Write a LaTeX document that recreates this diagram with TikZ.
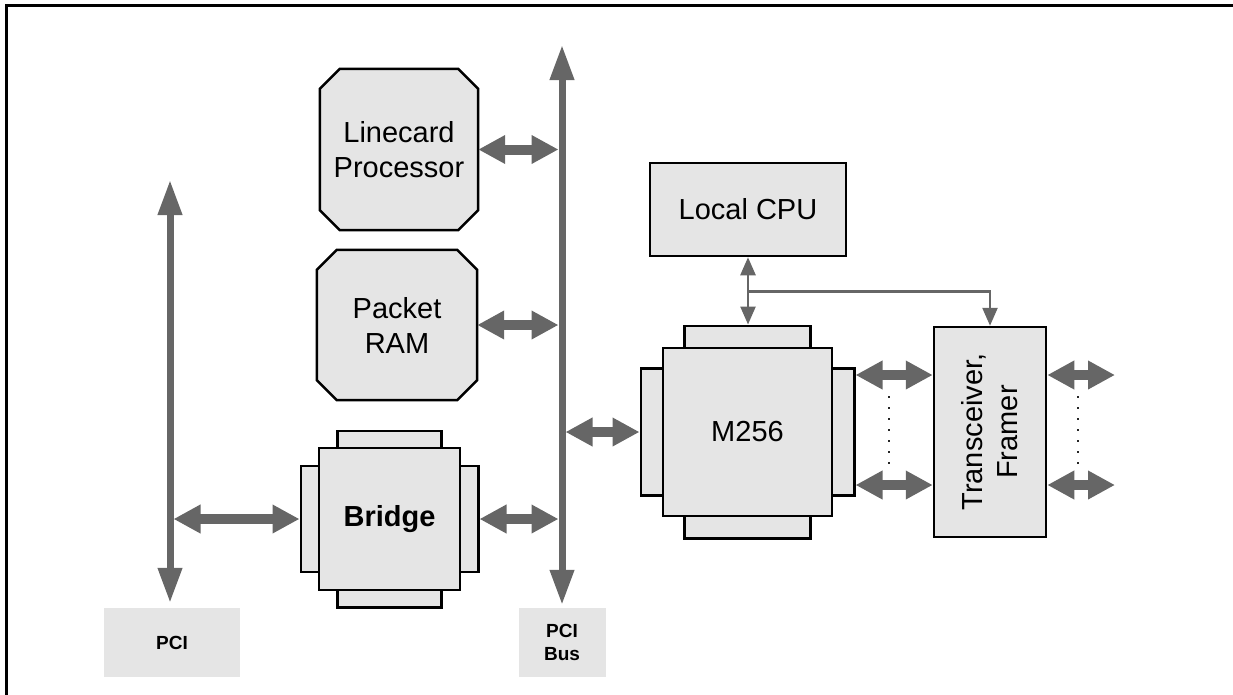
\documentclass[tikz,border=0pt]{standalone}
\usepackage{fontspec}
\setmainfont{Liberation Sans}
\usetikzlibrary{arrows.meta,backgrounds,calc}
\definecolor{boxgray}{HTML}{E5E5E5}
\definecolor{arrgray}{HTML}{666666}
\newcommand\octbox[1]{\filldraw[draw=black,line width=2.5pt,fill=boxgray,line join=miter]
  ([xshift=20pt]#1.north west) -- ([xshift=-20pt]#1.north east) -- ([yshift=-20pt]#1.north east) --
  ([yshift=20pt]#1.south east) -- ([xshift=-20pt]#1.south east) -- ([xshift=20pt]#1.south west) --
  ([yshift=20pt]#1.south west) -- ([yshift=-20pt]#1.north west) -- cycle;}
\begin{document}
\begin{tikzpicture}[x=1pt,y=-1pt,
  chip/.style={draw=black, line width=2.5pt, fill=boxgray, inner sep=0pt, align=center, font=\fontsize{29}{35}\selectfont},
  ghost/.style={inner sep=0pt, align=center, font=\fontsize{29}{35}\selectfont},
  tab/.style={draw=black, line width=2.5pt, fill=boxgray, inner sep=0pt},
  tag/.style={fill=boxgray, inner sep=0pt, align=center, font=\fontsize{19}{23}\selectfont\bfseries},
  fatarrow/.style={draw=arrgray, line width=10pt, {Triangle[width=27pt,length=27pt]}-{Triangle[width=27pt,length=27pt]}},
  busarrow/.style={draw=arrgray, line width=7pt, {Triangle[width=23pt,length=35pt]}-{Triangle[width=23pt,length=35pt]}},
  thinarrow/.style={draw=arrgray, line width=2.5pt},
  dotline/.style={draw=black!85, line width=1.6pt, dash pattern=on 1.6pt off 9.4pt}
]
\useasboundingbox (0,0) rectangle (1233,694);
\draw[line width=3pt] (1240,5) -- (6,5) -- (6,700);

% octagonal memories
\node[ghost, minimum width=158pt, minimum height=161pt] (lp) at (399,149.5) {Linecard\\Processor};
\node[ghost, minimum width=160pt, minimum height=150pt] (pr) at (397,325) {Packet\\RAM};
\begin{pgfonlayer}{background}
\octbox{lp}
\octbox{pr}
\end{pgfonlayer}

% Bridge chip
\node[chip, font=\fontsize{29}{35}\selectfont\bfseries, minimum width=141pt, minimum height=142pt] (br) at (389.5,519) {Bridge};
\begin{pgfonlayer}{background}
\node[tab, minimum width=104pt, minimum height=32pt] (brT) at (br.north) {};
\node[tab, minimum width=104pt, minimum height=32pt] (brB) at (br.south) {};
\node[tab, minimum width=34pt, minimum height=106pt] (brL) at (br.west) {};
\node[tab, minimum width=34pt, minimum height=106pt] (brR) at (br.east) {};
\end{pgfonlayer}

% M256 chip
\node[chip, minimum width=169pt, minimum height=168pt] (m) at (747.5,432) {M256};
\begin{pgfonlayer}{background}
\node[tab, minimum width=126pt, minimum height=42pt] (mT) at (m.north) {};
\node[tab, minimum width=126pt, minimum height=42pt] (mB) at (m.south) {};
\node[tab, minimum width=42pt, minimum height=127pt] (mL) at (m.west) {};
\node[tab, minimum width=42pt, minimum height=127pt] (mR) at (m.east) {};
\end{pgfonlayer}

% Local CPU and transceiver
\node[chip, minimum width=196pt, minimum height=93pt] (cpu) at (748,209.5) {Local CPU};
\node[chip, minimum width=112pt, minimum height=210pt] (tr) at (990,432) {};
\node[ghost, rotate=90] (trtext) at (tr.center) {Transceiver,\\Framer};

% PCI tags
\node[tag, minimum width=136pt, minimum height=69pt] (pci) at (172,642.5) {PCI};
\node[tag, minimum width=87pt, minimum height=69pt] (pcib) at (562,642.5) {PCI\\Bus};

% buses
\coordinate (bustop) at (562,45);
\coordinate (pcitop) at (170,180);
\draw[busarrow, shorten >=3pt] (bustop) -- (bustop |- pcib.north);
\draw[busarrow, shorten >=5pt] (pcitop) -- (pcitop |- pci.north);
\coordinate (busL) at (558.5,0);
\coordinate (busR) at (565.5,0);
\coordinate (pciR) at (173.5,0);

% fat double arrows
\draw[fatarrow] (lp.east) -- (lp.east -| busL);
\draw[fatarrow] (pr.east) -- (pr.east -| busL);
\draw[fatarrow] (brR.east) -- (brR.east -| busL);
\draw[fatarrow] (brL.west -| pciR) -- (brL.west);
\draw[fatarrow] (mL.west -| busR) -- (mL.west);

\coordinate (a1) at ([yshift=57pt]mR.east);
\coordinate (a2) at ([yshift=-53pt]mR.east);
\coordinate (o1) at (1115,375);
\coordinate (o2) at (1115,485);
\draw[fatarrow] (a1) -- (a1 -| tr.west);
\draw[fatarrow] (a2) -- (a2 -| tr.west);
\draw[fatarrow] (o1 -| tr.east) -- (o1);
\draw[fatarrow] (o2 -| tr.east) -- (o2);

% dotted continuation marks
\coordinate (d1) at (889,396);
\coordinate (d2) at (889,464);
\coordinate (d3) at (1078,396);
\coordinate (d4) at (1078,464);
\draw[dotline] (d1) -- (d2);
\draw[dotline] (d3) -- (d4);

% local CPU connections
\draw[thinarrow, {Triangle[width=15pt,length=18pt]}-{Triangle[width=15pt,length=18pt]}] (cpu.south) -- (cpu.south |- mT.north);
\coordinate (j) at ([yshift=-34pt]cpu.south);
\draw[thinarrow, -{Triangle[width=15pt,length=18pt]}] (j) -| (tr.north);
\end{tikzpicture}
\end{document}
